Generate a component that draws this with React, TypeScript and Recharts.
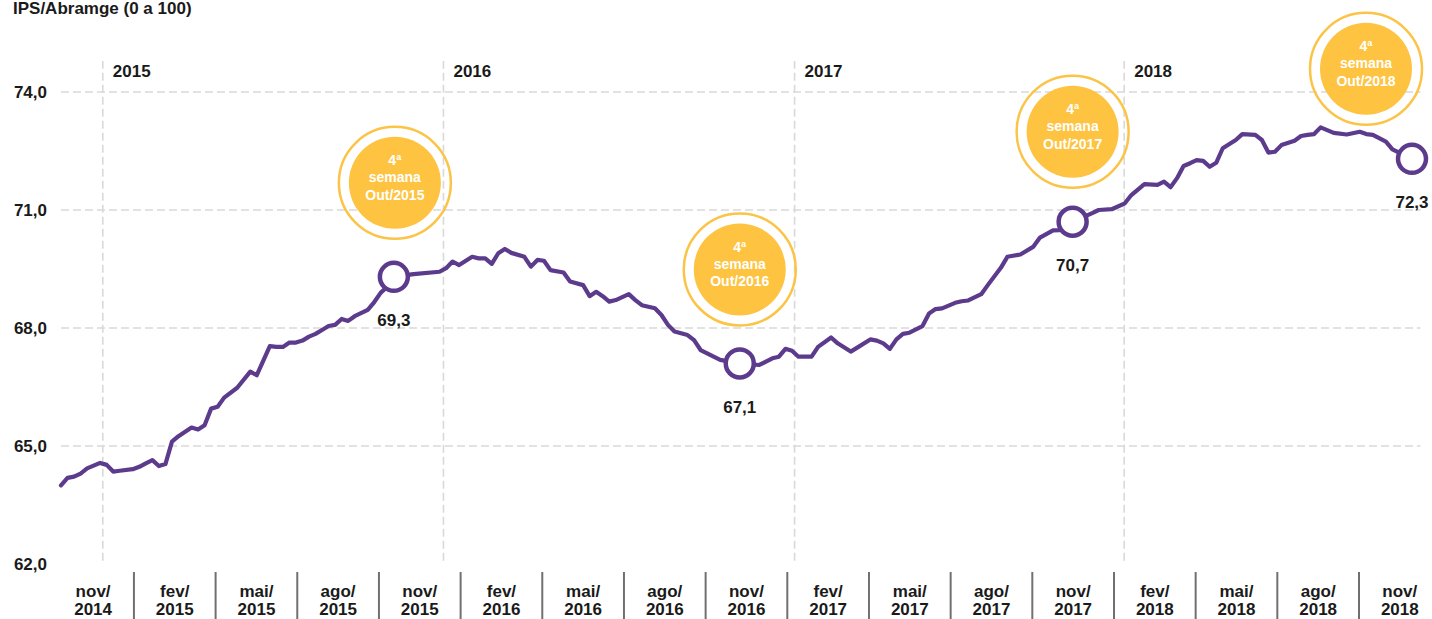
import React from 'react';
import { LineChart, Line, XAxis, YAxis, ReferenceLine, ReferenceDot } from 'recharts';

// ---- data ----
const weeks = [
  0, 1, 2, 3, 4, 6, 7, 8, 9, 11, 12, 13, 14, 15, 16, 17, 18, 20, 21, 22, 23, 24, 25, 27, 29, 30,
  32, 33, 34, 35, 36, 37, 38, 39, 40, 41, 42, 43, 44, 45, 47, 48, 49, 50, 51,
  54, 58, 59, 60, 61, 63, 64, 65, 66, 67, 68, 69, 71, 72, 73, 74, 75, 77, 78, 80, 81, 82, 83, 84, 85,
  87, 88, 89, 91, 92, 93, 94, 96, 97, 98, 100, 101, 104,
  107, 109, 110, 111, 112, 113, 115, 116, 118, 119, 121, 122, 124, 125, 126, 127, 128, 129, 130,
  132, 133, 134, 135, 137, 138, 139, 141, 142, 144, 145, 147, 149, 150, 152, 153, 155,
  158, 159, 161, 163, 164, 166, 168, 169, 170, 171, 172, 173, 174, 175, 176, 177, 178, 180, 181,
  183, 184, 185, 186, 187, 189, 190, 191, 192, 193, 194, 195, 197, 199, 200, 201, 203, 204, 207,
];
const ipsValues = [
  64.0, 64.19, 64.22, 64.3, 64.43, 64.57, 64.52, 64.35, 64.37, 64.41, 64.47, 64.56, 64.64, 64.49, 64.54, 65.11, 65.25, 65.47, 65.42, 65.53, 65.95, 66.0, 66.23, 66.48, 66.89, 66.8,
  67.54, 67.52, 67.52, 67.63, 67.63, 67.68, 67.78, 67.85, 67.95, 68.05, 68.08, 68.23, 68.18, 68.3, 68.46, 68.66, 68.9, 69.05, 69.3,
  69.37, 69.43, 69.52, 69.69, 69.6, 69.81, 69.77, 69.77, 69.63, 69.9, 70.01, 69.91, 69.81, 69.56, 69.73, 69.71, 69.47, 69.41, 69.18, 69.09, 68.81, 68.92, 68.81, 68.67, 68.71,
  68.86, 68.71, 68.58, 68.5, 68.33, 68.08, 67.91, 67.82, 67.69, 67.44, 67.27, 67.19, 67.1,
  67.06, 67.23, 67.27, 67.47, 67.42, 67.27, 67.27, 67.52, 67.76, 67.61, 67.4, 67.5, 67.71, 67.68, 67.61, 67.47, 67.71, 67.85, 67.88,
  68.05, 68.37, 68.48, 68.5, 68.64, 68.68, 68.7, 68.86, 69.09, 69.53, 69.81, 69.87, 70.07, 70.3, 70.48, 70.49, 70.7,
  70.92, 71.0, 71.02, 71.17, 71.38, 71.66, 71.64, 71.72, 71.58, 71.81, 72.12, 72.19, 72.27, 72.25, 72.1, 72.2, 72.57, 72.78, 72.93,
  72.91, 72.78, 72.46, 72.48, 72.65, 72.76, 72.88, 72.91, 72.93, 73.1, 73.03, 72.96, 72.92, 72.99, 72.93, 72.91, 72.74, 72.54, 72.3,
];

const yTicks = [62, 65, 68, 71, 74];
const gridValues = [65, 68, 71, 74];
const monthLabels = [
  'nov/2014', 'fev/2015', 'mai/2015', 'ago/2015', 'nov/2015', 'fev/2016', 'mai/2016', 'ago/2016',
  'nov/2016', 'fev/2017', 'mai/2017', 'ago/2017', 'nov/2017', 'fev/2018', 'mai/2018', 'ago/2018', 'nov/2018',
];
const yearLabels = ['2015', '2016', '2017', '2018'];
const yearStartWeeks = [6.4, 58.6, 112.4, 162.9];
const highlightWeeks = [51, 104, 155, 207];
const highlightLabels = ['69,3', '67,1', '70,7', '72,3'];
const badgePeriods = ['Out/2015', 'Out/2016', 'Out/2017', 'Out/2018'];

// ---- styles / layout ----
const PURPLE = '#5c3b8d';
const YELLOW = '#fec340';
const YELLOW_RING = '#fcc447';
const GRID = '#d9d9d9';
const TEXT = '#1a1a1a';
const FONT = '"Liberation Sans", Arial, Helvetica, sans-serif';
const badgeOffsets = [
  { dx: 1, dy: -94 },
  { dx: 0, dy: -94 },
  { dx: 0, dy: -90 },
  { dx: -46, dy: -90 },
];
const LAST_WEEK = 207;
// the month bands (each one a quarter wide) are laid out so that the plot area spans
// band units BAND_START..BAND_END
const BAND_START = 0.107;
const BAND_END = 16.649;
const bandToWeek = (u: number) => ((u - BAND_START) / (BAND_END - BAND_START)) * LAST_WEEK;

const data = weeks.map((w, i) => ({ week: w, ips: ipsValues[i] }));
const monthTickBands: number[] = [];
monthLabels.forEach((_, i) => {
  if (i > 0) monthTickBands.push(i);
  monthTickBands.push(i + 0.5);
});
const monthTickWeeks = monthTickBands.map(bandToWeek);

const YTick = (props: any) => {
  const { x, y, payload } = props;
  return (
    <text x={x} y={y} dy={6} textAnchor="end" fontSize={17} fontWeight="bold" fill={TEXT} fontFamily={FONT}>
      {Number(payload.value).toFixed(1).replace('.', ',')}
    </text>
  );
};

const MonthTick = (props: any) => {
  const { x, y, payload } = props;
  const idx = monthTickWeeks.findIndex((w) => Math.abs(w - payload.value) < 1e-6);
  if (idx < 0) return <g />;
  const band = monthTickBands[idx];
  if (Number.isInteger(band)) {
    return <line x1={x} x2={x} y1={y + 8} y2={y + 60} stroke="#707070" strokeWidth={2} />;
  }
  const [m, yr] = monthLabels[Math.floor(band)].split('/');
  return (
    <text textAnchor="middle" fontSize={17} fontWeight="bold" fill={TEXT} fontFamily={FONT}>
      <tspan x={x} y={y + 33}>{m}/</tspan>
      <tspan x={x} y={y + 51}>{yr}</tspan>
    </text>
  );
};

const renderDot = (props: any) => {
  const { cx, cy, index, payload } = props;
  const k = highlightWeeks.indexOf(payload.week);
  if (k < 0) return <g key={`d${index}`} />;
  const off = badgeOffsets[k];
  const bx = cx + off.dx;
  const by = cy + off.dy;
  return (
    <g key={`d${index}`}>
      <circle cx={bx} cy={by} r={56} fill="none" stroke={YELLOW_RING} strokeWidth={2.5} />
      <circle cx={bx} cy={by} r={46} fill={YELLOW} />
      <text textAnchor="middle" fontSize={14} fontWeight="bold" fill="#ffffff" fontFamily={FONT}>
        <tspan x={bx} y={by - 17.5}>4ª</tspan>
        <tspan x={bx} y={by - 0.5}>semana</tspan>
        <tspan x={bx} y={by + 17}>{badgePeriods[k]}</tspan>
      </text>
      <circle cx={cx} cy={cy} r={14} fill="#ffffff" stroke={PURPLE} strokeWidth={4.5} />
      <text x={cx} y={cy + 49.5} textAnchor="middle" fontSize={17} fontWeight="bold" fill={TEXT} fontFamily={FONT}>
        {highlightLabels[k]}
      </text>
    </g>
  );
};

const YearLabel = (props: any) => {
  const { cx, cy, label } = props;
  return (
    <text x={cx + 10} y={cy + 16.5} fontSize={17} fontWeight="bold" fill={TEXT} fontFamily={FONT}>
      {label}
    </text>
  );
};

export default function App() {
  return (
    <div style={{ position: 'absolute', left: 0, top: 0, width: 1432, height: 619, background: '#fff' }}>
      <div
        style={{
          position: 'absolute',
          left: 13,
          top: 0,
          fontFamily: FONT,
          fontWeight: 'bold',
          fontSize: 17,
          lineHeight: '17px',
          color: TEXT,
          whiteSpace: 'nowrap',
        }}
      >
        IPS/Abramge (0 a 100)
      </div>
      <LineChart width={1432} height={619} data={data} margin={{ top: 92, right: 20, bottom: 0, left: 0 }}>
        <XAxis
          xAxisId="w"
          type="number"
          dataKey="week"
          domain={[0, LAST_WEEK]}
          ticks={monthTickWeeks}
          interval={0}
          height={55}
          axisLine={false}
          tickLine={false}
          tickSize={0}
          tickMargin={0}
          tick={<MonthTick />}
        />
        <YAxis
          type="number"
          domain={[62, 74]}
          ticks={yTicks}
          interval={0}
          width={61}
          axisLine={false}
          tickLine={false}
          tickSize={0}
          tickMargin={14}
          tick={<YTick />}
        />
        {gridValues.map((v) => (
          <ReferenceLine
            key={`g${v}`}
            xAxisId="w"
            segment={[{ x: 0, y: v }, { x: 208.3, y: v }]}
            stroke={GRID}
            strokeWidth={1.6}
            strokeDasharray="8 4"
            ifOverflow="visible"
          />
        ))}
        {yearStartWeeks.map((w, i) => (
          <ReferenceLine
            key={`yl${i}`}
            xAxisId="w"
            segment={[{ x: w, y: 62.08 }, { x: w, y: 74.79 }]}
            stroke={GRID}
            strokeWidth={1.6}
            strokeDasharray="8 4"
            ifOverflow="visible"
          />
        ))}
        {yearStartWeeks.map((w, i) => (
          <ReferenceDot
            key={`yt${i}`}
            xAxisId="w"
            x={w}
            y={74.79}
            r={0}
            ifOverflow="visible"
            shape={(p: any) => <YearLabel {...p} label={yearLabels[i]} />}
          />
        ))}
        <Line
          xAxisId="w"
          type="linear"
          dataKey="ips"
          stroke={PURPLE}
          strokeWidth={4.2}
          strokeLinejoin="round"
          strokeLinecap="round"
          dot={renderDot}
          activeDot={false}
          isAnimationActive={false}
        />
      </LineChart>
    </div>
  );
}
